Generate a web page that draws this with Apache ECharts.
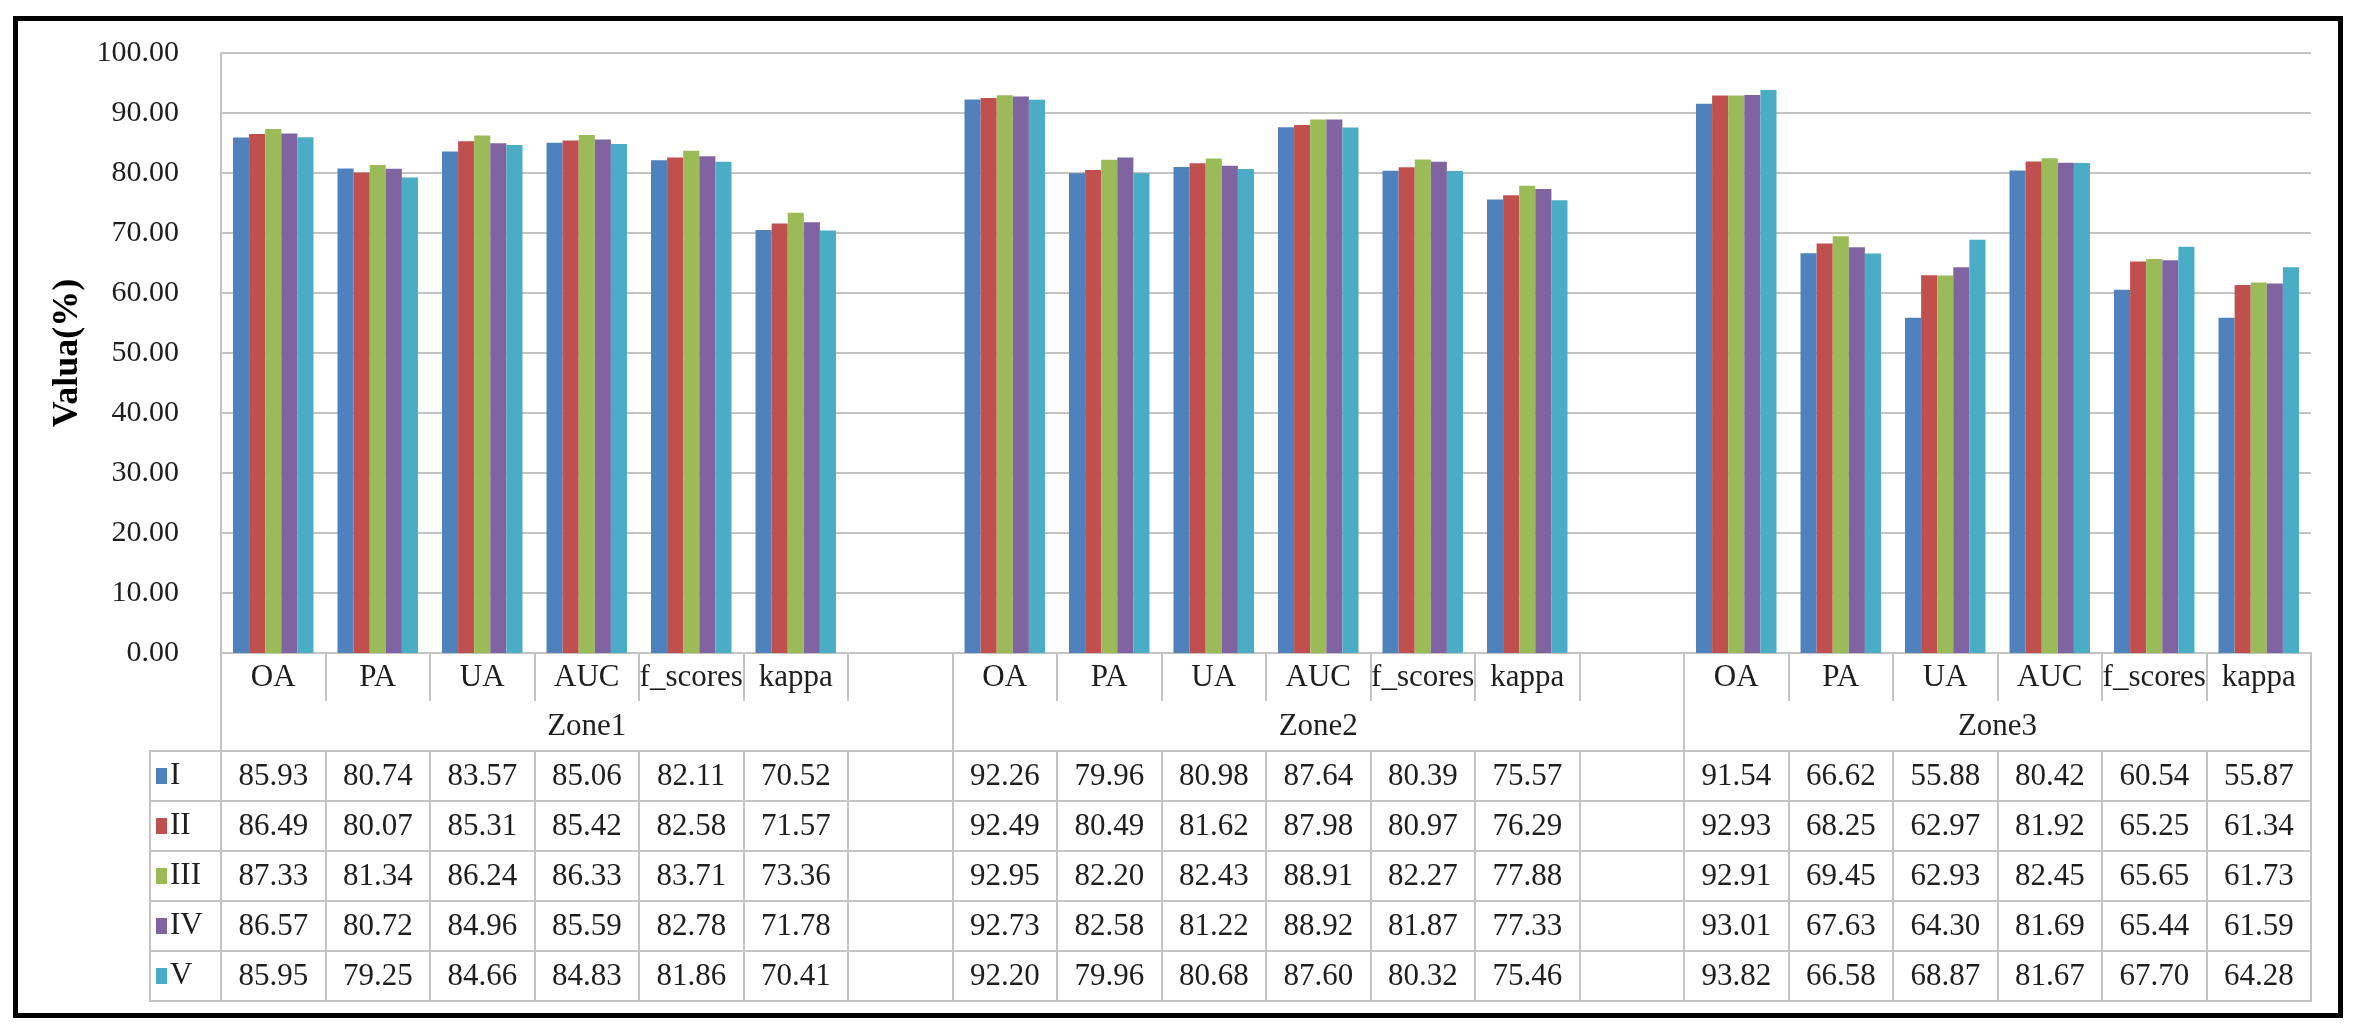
<!DOCTYPE html>
<html>
<head>
<meta charset="utf-8">
<script src="https://cdn.jsdelivr.net/npm/echarts@6/dist/echarts.min.js"></script>
<style>
html,body{margin:0;padding:0;background:#fff;}
#chart{position:absolute;left:0;top:0;width:2358px;height:1034px;}
#frame{position:absolute;left:13px;top:16px;width:2330px;height:1002px;border:5px solid #000;box-sizing:border-box;pointer-events:none;}
</style>
</head>
<body>
<div id="chart"></div>
<div id="frame"></div>
<script>
// ---- data ----
const zones = ['Zone1', 'Zone2', 'Zone3'];
const metrics = ['OA', 'PA', 'UA', 'AUC', 'f_scores', 'kappa'];
const seriesNames = ['I', 'II', 'III', 'IV', 'V'];
const yTicks = [0, 10, 20, 30, 40, 50, 60, 70, 80, 90, 100];
// values in order: Zone1 (OA..kappa), Zone2 (OA..kappa), Zone3 (OA..kappa)
const valsI   = [85.93, 80.74, 83.57, 85.06, 82.11, 70.52, 92.26, 79.96, 80.98, 87.64, 80.39, 75.57, 91.54, 66.62, 55.88, 80.42, 60.54, 55.87];
const valsII  = [86.49, 80.07, 85.31, 85.42, 82.58, 71.57, 92.49, 80.49, 81.62, 87.98, 80.97, 76.29, 92.93, 68.25, 62.97, 81.92, 65.25, 61.34];
const valsIII = [87.33, 81.34, 86.24, 86.33, 83.71, 73.36, 92.95, 82.20, 82.43, 88.91, 82.27, 77.88, 92.91, 69.45, 62.93, 82.45, 65.65, 61.73];
const valsIV  = [86.57, 80.72, 84.96, 85.59, 82.78, 71.78, 92.73, 82.58, 81.22, 88.92, 81.87, 77.33, 93.01, 67.63, 64.30, 81.69, 65.44, 61.59];
const valsV   = [85.95, 79.25, 84.66, 84.83, 81.86, 70.41, 92.20, 79.96, 80.68, 87.60, 80.32, 75.46, 93.82, 66.58, 68.87, 81.67, 67.70, 64.28];
const allVals = [valsI, valsII, valsIII, valsIV, valsV];
const colors = ['#4F81BD', '#C0504D', '#9BBB59', '#8064A2', '#4BACC6'];

// ---- build categories (a blank slot after each zone except the last) ----
const cats = [], catIdx = [];
const zoneStart = [], zoneLen = [];
zones.forEach((z, zi) => {
  zoneStart.push(cats.length);
  metrics.forEach((m, mi) => { cats.push(z + '|' + m); catIdx.push(zi * metrics.length + mi); });
  if (zi < zones.length - 1) { cats.push(z + '|'); catIdx.push(-1); }
  zoneLen.push(cats.length - zoneStart[zi]);
});
const N = cats.length;
const halfCats = [];
for (let i = 0; i <= 2 * N; i++) halfCats.push(String(i));
const zoneCenterHalf = zones.map((z, i) => 2 * zoneStart[i] + zoneLen[i]);
const zoneBoundHalf = zones.map((z, i) => 2 * zoneStart[i]).concat([2 * N]);

const FONT = '"Liberation Serif", "Times New Roman", serif';
const TXT = '#1e1e1e';
const LINE = '#c3c3c3';
const FS = 31;
const headerH = 48, zoneH = 50, rowH = 50;

const xAxes = [];
// header row: metric names
xAxes.push({
  gridIndex: 0, type: 'category', data: cats, position: 'bottom',
  axisLine: { show: true, lineStyle: { color: LINE, width: 2 } },
  axisTick: { show: true, interval: 0, length: headerH, lineStyle: { color: LINE, width: 2 } },
  axisLabel: { interval: 0, margin: 9, fontSize: FS, lineHeight: 31, fontFamily: FONT, color: TXT,
    formatter: v => v.split('|')[1] }
});
// zone row
xAxes.push({
  gridIndex: 0, type: 'category', data: halfCats, boundaryGap: false, position: 'bottom', offset: headerH,
  axisLine: { show: false },
  axisTick: { show: true, interval: (i) => zoneBoundHalf.indexOf(i) >= 0, length: zoneH, lineStyle: { color: LINE, width: 2 } },
  axisLabel: { interval: (i) => zoneCenterHalf.indexOf(i) >= 0, margin: 10, fontSize: FS, lineHeight: 31, fontFamily: FONT, color: TXT,
    formatter: (v) => { const k = zoneCenterHalf.indexOf(parseInt(v, 10)); return k >= 0 ? zones[k] : ''; } }
});
// data rows
allVals.forEach((vals, si) => {
  xAxes.push({
    gridIndex: 0, type: 'category', data: cats, position: 'bottom', offset: headerH + zoneH + rowH * si,
    axisLine: { show: true, lineStyle: { color: LINE, width: 2 } },
    axisTick: { show: true, interval: 0, length: rowH, lineStyle: { color: LINE, width: 2 } },
    axisLabel: { interval: 0, margin: 10, fontSize: FS, lineHeight: 31, fontFamily: FONT, color: TXT,
      formatter: (v, i) => catIdx[i] < 0 ? '' : vals[catIdx[i]].toFixed(2) }
  });
});
// bottom line of table
xAxes.push({
  gridIndex: 0, type: 'category', data: cats, position: 'bottom', offset: headerH + zoneH + rowH * allVals.length,
  axisLine: { show: true, lineStyle: { color: LINE, width: 2 } },
  axisTick: { show: false }, axisLabel: { show: false }
});
// label-column grid axes
xAxes.push({ gridIndex: 1, type: 'value', position: 'top', axisLine: { show: true, onZero: false, lineStyle: { color: LINE, width: 2 } }, axisTick: { show: false }, axisLabel: { show: false }, splitLine: { show: false } });
xAxes.push({ gridIndex: 1, type: 'value', position: 'bottom', axisLine: { show: true, onZero: false, lineStyle: { color: LINE, width: 2 } }, axisTick: { show: false }, axisLabel: { show: false }, splitLine: { show: false } });

const rich = { n: { fontSize: FS, fontFamily: FONT, color: TXT, padding: [0, 0, 0, 3] } };
colors.forEach((c, i) => { rich['k' + i] = { backgroundColor: c, width: 11, height: 16 }; });

const series = allVals.map((vals, si) => ({
  name: seriesNames[si], type: 'bar', xAxisIndex: 0, yAxisIndex: 0,
  barGap: 0, barCategoryGap: '23%',
  itemStyle: { color: colors[si] },
  data: catIdx.map(k => k < 0 ? '-' : vals[k])
}));

const chart = echarts.init(document.getElementById('chart'), null, { renderer: 'canvas' });
chart.setOption({
  backgroundColor: '#fff',
  animation: false,
  grid: [
    { left: 221, right: 47, top: 53, height: 600 },
    { left: 150, width: 71, top: 53 + 600 + headerH + zoneH, height: rowH * allVals.length }
  ],
  xAxis: xAxes,
  yAxis: [
    {
      gridIndex: 0, type: 'value', min: yTicks[0], max: yTicks[yTicks.length - 1], interval: yTicks[1] - yTicks[0],
      name: 'Valua(%)', nameLocation: 'middle', nameGap: 134,
      nameTextStyle: { fontSize: 36, fontWeight: 'bold', fontFamily: FONT, color: '#000' },
      axisLine: { show: true, lineStyle: { color: LINE, width: 2 } },
      axisTick: { show: false },
      axisLabel: { margin: 42, fontSize: 30, fontFamily: FONT, color: TXT, formatter: v => v.toFixed(2) },
      splitLine: { show: true, lineStyle: { color: LINE, width: 2 } }
    },
    {
      gridIndex: 1, type: 'category', inverse: true, data: seriesNames, boundaryGap: true,
      axisLine: { show: true, lineStyle: { color: LINE, width: 2 } },
      axisTick: { show: false },
      splitLine: { show: true, interval: 0, lineStyle: { color: LINE, width: 2 } },
      axisLabel: { inside: true, interval: 0, margin: 6, formatter: (v, i) => '{k' + i + '|}{n|' + v + '}', rich: rich }
    }
  ],
  series: series
});
</script>
</body>
</html>
